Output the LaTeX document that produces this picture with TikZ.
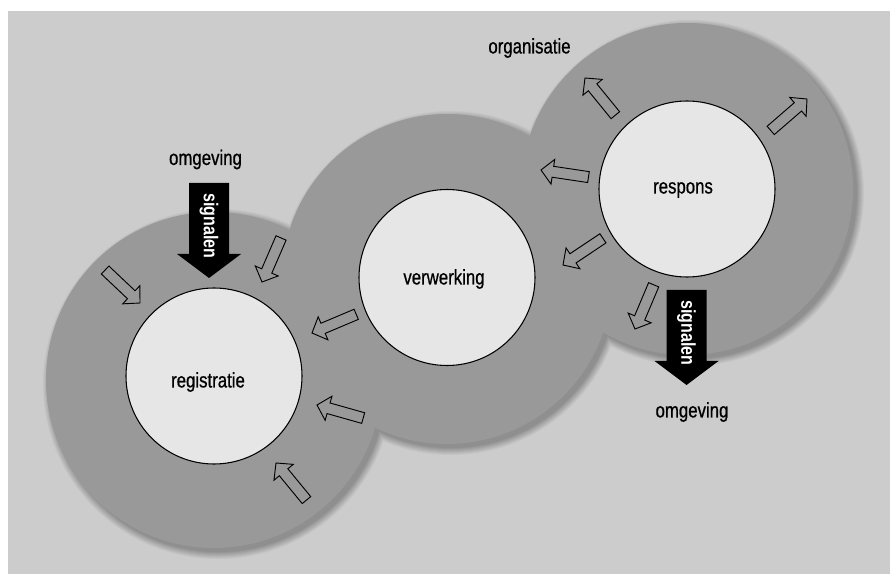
\documentclass[tikz,border=0pt]{standalone}
\usepackage{fontspec}
\setmainfont{Liberation Sans}[FakeStretch=0.8]
\newfontfamily\lblfont{Liberation Sans}[FakeStretch=0.8, FakeBold=0.7]
\definecolor{bgc}{HTML}{CCCCCC}
\definecolor{diskc}{HTML}{999999}
\definecolor{innerc}{HTML}{E6E6E6}
\begin{document}
\begin{tikzpicture}[x=0.75pt,y=-0.75pt,
  lbl/.style={font=\lblfont\fontsize{15.75}{18}\selectfont, text=black, inner sep=0},
  sig/.style={font=\bfseries\fontsize{15}{17}\selectfont, text=white, inner sep=0, rotate=-90},
  innercirc/.style={circle, draw=black, line width=0.8pt, fill=innerc, minimum size=132pt, inner sep=0},
  hollowarrow/.pic={\draw[black, line width=0.7pt, line join=miter]
     (0,0) -- (-12,12.5) -- (-12,5.5) -- (-48,5.5) -- (-48,-5.5) -- (-12,-5.5) -- (-12,-12.5) -- cycle;},
  blackarrow/.pic={\fill[black]
     (0,0) -- (-24,32) -- (-24,20) -- (-95,20) -- (-95,-20) -- (-24,-20) -- (-24,-32) -- cycle;}]
\useasboundingbox (0,0) rectangle (890,574);
\fill[white] (0,0) rectangle (890,574);
\fill[bgc] (8,11) rectangle (890,574);
% soft shadow
\foreach \i in {0,...,8} {
  \pgfmathsetmacro\pc{20+\i*3}
  \pgfmathsetmacro\ra{176-\i}
  \pgfmathsetmacro\rb{173-\i}
  \pgfmathsetmacro\rc{174-\i}
  \fill[black!\pc] (218,384) circle[radius=\ra];
  \fill[black!\pc] (451,283) circle[radius=\rb];
  \fill[black!\pc] (691,193) circle[radius=\rc];
}
% disks
\fill[diskc] (214,380) circle[radius=168];
\fill[diskc] (447,279) circle[radius=165];
\fill[diskc] (687,189) circle[radius=166];
% inner circles
\node[innercirc] (reg) at (214,376) {};
\node[innercirc] (ver) at (447,277.5) {};
\node[innercirc] (res) at (687,189) {};
% labels
\node[lbl] (tReg) at (208,382) {registratie};
\node[lbl] (tVer) at (444,279) {verwerking};
\node[lbl] (tRes) at (683,190) {respons};
\node[lbl] (tOrg) at (529.5,48) {organisatie};
\node[lbl] (tOm1) at (205.5,159.5) {omgeving};
\node[lbl] (tOm2) at (692,412) {omgeving};
% hollow arrows
\pic[rotate=-43.4] (h1) at (140,303) {hollowarrow};
\pic[rotate=-113.4] (h2) at (262,282) {hollowarrow};
\pic[rotate=-157.1] (h3) at (312,333) {hollowarrow};
\pic[rotate=164.2] (h4) at (317,405) {hollowarrow};
\pic[rotate=129.4] (h5) at (276,463) {hollowarrow};
\pic[rotate=171.5] (h6) at (541,170) {hollowarrow};
\pic[rotate=-146.3] (h7) at (563,265) {hollowarrow};
\pic[rotate=129.2] (h8) at (585,78) {hollowarrow};
\pic[rotate=40.9] (h9) at (807,99) {hollowarrow};
\pic[rotate=-112.9] (h10) at (635,329) {hollowarrow};
% black arrows
\pic[rotate=-90] (s1) at (209,278) {blackarrow};
\node[sig] (sig1) at (209,226) {signalen};
\pic[rotate=-90] (s2) at (686.5,385) {blackarrow};
\node[sig] (sig2) at (686.5,333) {signalen};
\end{tikzpicture}
\end{document}
